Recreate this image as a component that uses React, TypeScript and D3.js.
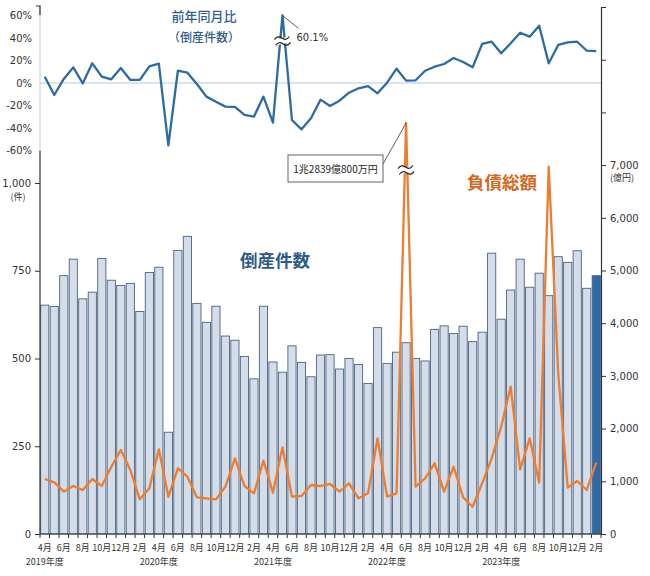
import React, { useEffect, useRef } from "react";
import * as d3 from "d3";

// 年度・月
const fiscalYears = ["2019年度", "2020年度", "2021年度", "2022年度", "2023年度"];
const monthLabels = ["4月", "5月", "6月", "7月", "8月", "9月", "10月", "11月", "12月", "1月", "2月", "3月"];

// 倒産件数（件） 2019年4月〜2024年2月
const counts = [
  652, 648, 736, 783, 670, 689, 785, 723, 708, 714, 634, 745,
  760, 290, 808, 848, 657, 603, 649, 564, 552, 506, 442, 649,
  490, 461, 536, 489, 448, 510, 511, 470, 500, 483, 429, 588,
  486, 518, 545, 500, 493, 583, 593, 571, 592, 548, 575, 800,
  612, 695, 783, 703, 743, 679, 790, 774, 807, 700, 736,
];

// 負債総額（億円）
const debt = [
  1044, 981, 803, 911, 835, 1044, 911, 1277, 1594, 1214, 658, 867,
  1607, 708, 1247, 1088, 696, 677, 658, 898, 1436, 911, 772, 1391,
  784, 1645, 708, 721, 930, 911, 949, 803, 962, 677, 772, 1816,
  708, 772, 12839, 898, 1057, 1341, 803, 1277, 696, 518, 962, 1436,
  2036, 2795, 1227, 1816, 974, 6970, 3050, 879, 1006, 835, 1353,
];

// 前年同月比（%）
const yoy = [
  5.6, -10.7, 3.6, 13.9, -0.3, 17.5, 5.6, 3.3, 13.3, 2.7, 2.7, 14.8,
  17.2, -55.4, 10.9, 9.2, -0.9, -12.1, -16.6, -21.0, -21.3, -28.4, -29.9, -12.1,
  -35.3, 60.1, -32.9, -41.2, -31.4, -14.8, -20.4, -15.7, -8.6, -4.7, -2.7, -9.2,
  0.3, 12.7, 2.1, 2.4, 10.9, 14.5, 16.9, 22.2, 18.7, 13.9, 34.7, 36.7,
  26.4, 35.3, 44.7, 41.2, 50.9, 17.5, 33.8, 36.1, 36.7, 28.7, 28.4,
];

const countTicks = [0, 250, 500, 750, 1000];
const debtTicks = d3.range(0, 10001, 1000);
const yoyTicks = [-60, -40, -20, 0, 20, 40, 60];

const JP = "'Noto Sans CJK JP', sans-serif";
const NUM = "'DejaVu Sans', sans-serif";

const App: React.FC = () => {
  const svgRef = useRef<SVGSVGElement>(null);

  useEffect(() => {
    const svg = d3.select(svgRef.current);
    svg.selectAll("*").remove();

    const left = 40;
    const right = 601;
    const bottom = 534;

    const x = d3
      .scaleBand<number>()
      .domain(d3.range(counts.length))
      .range([left, right])
      .paddingInner(0.14)
      .paddingOuter(0.07);
    const cx = (i: number) => (x(i) ?? 0) + x.bandwidth() / 2;

    const yCount = d3.scaleLinear().domain([0, 1000]).range([bottom, 183]);
    const yDebtAxis = d3.scaleLinear().domain([0, 10000]).range([bottom, 7]);
    // 6月の突出値は波線で省略して描く
    const yDebt = d3
      .scaleLinear()
      .domain([0, 7000, 12839])
      .range([bottom, yDebtAxis(7000), 123]);
    const yPct = d3.scaleLinear().domain([-60, 60]).range([150.5, 15.5]);

    // 棒（倒産件数）
    svg
      .append("g")
      .selectAll("rect")
      .data(counts)
      .join("rect")
      .attr("x", (_, i) => x(i) ?? 0)
      .attr("y", (d) => yCount(d))
      .attr("width", x.bandwidth())
      .attr("height", (d) => bottom - yCount(d))
      .attr("fill", (_, i) => (i === counts.length - 1 ? "#2e6aaa" : "#d5dde8"))
      .attr("stroke", "#4a6482")
      .attr("stroke-width", 0.9);

    // 前年同月比 0% 線
    svg
      .append("line")
      .attr("x1", left)
      .attr("x2", right)
      .attr("y1", yPct(0))
      .attr("y2", yPct(0))
      .attr("stroke", "#cfdcea")
      .attr("stroke-width", 1.6);

    // 負債総額
    const debtLine = d3
      .line<number>()
      .x((_, i) => cx(i))
      .y((d) => yDebt(d));
    svg
      .append("path")
      .datum(debt)
      .attr("d", debtLine)
      .attr("fill", "none")
      .attr("stroke", "#ed7d31")
      .attr("stroke-width", 2.3)
      .attr("stroke-linejoin", "round");

    // 前年同月比
    const yoyLine = d3
      .line<number>()
      .x((_, i) => cx(i))
      .y((d) => yPct(d));
    svg
      .append("path")
      .datum(yoy)
      .attr("d", yoyLine)
      .attr("fill", "none")
      .attr("stroke", "#2e6aa3")
      .attr("stroke-width", 2.3)
      .attr("stroke-linejoin", "round");

    // 波線
    const brk = (bx: number, by: number) => {
      const g = svg.append("g").attr("transform", `translate(${bx},${by}) rotate(-12)`);
      g.append("rect").attr("x", -8).attr("y", -3).attr("width", 16).attr("height", 6).attr("fill", "#fff");
      [-3, 3].forEach((dy) =>
        g
          .append("path")
          .attr("d", `M-7.5,${dy} q3.75,-4 7.5,0 t7.5,0`)
          .attr("fill", "none")
          .attr("stroke", "#222")
          .attr("stroke-width", 1.2)
      );
    };
    brk(cx(25), 41);
    brk(cx(38), 170);

    // 左軸（件数）
    const gl = svg.append("g").attr("transform", `translate(${left},0)`);
    gl.call(
      d3
        .axisLeft(yCount)
        .tickValues(countTicks)
        .tickFormat((d) => d3.format(",")(d as number))
        .tickSize(5)
        .tickPadding(4)
    );
    gl.select(".domain").remove();
    gl.selectAll(".tick line").attr("stroke", "#333");
    gl.selectAll(".tick text").attr("font-family", NUM).attr("font-size", 10).attr("fill", "#333");
    svg
      .append("line")
      .attr("x1", left)
      .attr("x2", left)
      .attr("y1", yPct(-60))
      .attr("y2", bottom)
      .attr("stroke", "#333")
      .attr("stroke-width", 1.2);

    // 上段の左軸（％）
    const gt = svg.append("g").attr("transform", `translate(${left},0)`);
    gt.call(
      d3
        .axisLeft(yPct)
        .tickValues(yoyTicks)
        .tickFormat((d) => `${d}%`)
        .tickSize(0)
        .tickPadding(8)
    );
    gt.select(".domain").remove();
    gt.selectAll(".tick text").attr("font-family", NUM).attr("font-size", 10).attr("fill", "#333");
    svg
      .append("line")
      .attr("x1", left)
      .attr("x2", left)
      .attr("y1", 6)
      .attr("y2", yPct(-60))
      .attr("stroke", "#c9d9e8")
      .attr("stroke-width", 1.2);
    svg
      .append("path")
      .attr("d", `M${left - 4},6H${left}V15`)
      .attr("fill", "none")
      .attr("stroke", "#333")
      .attr("stroke-width", 1.2);

    // 右軸（億円）
    const gr = svg.append("g").attr("transform", `translate(${right},0)`);
    gr.call(
      d3
        .axisRight(yDebtAxis)
        .tickValues(debtTicks)
        .tickFormat((d) => ((d as number) <= 7000 ? d3.format(",")(d as number) : ""))
        .tickSize(5)
        .tickSizeOuter(0)
        .tickPadding(4)
    );
    gr.select(".domain").attr("stroke", "#333").attr("stroke-width", 1.2);
    gr.selectAll(".tick line").attr("stroke", "#333");
    gr.selectAll(".tick text").attr("font-family", NUM).attr("font-size", 10).attr("fill", "#333");

    // 下軸
    const gb = svg.append("g");
    gb.append("line")
      .attr("x1", left)
      .attr("x2", right)
      .attr("y1", bottom)
      .attr("y2", bottom)
      .attr("stroke", "#333")
      .attr("stroke-width", 1.2);
    gb.selectAll("line.tk")
      .data(d3.range(counts.length + 1))
      .join("line")
      .attr("class", "tk")
      .attr("x1", (i) => left + i * x.step())
      .attr("x2", (i) => left + i * x.step())
      .attr("y1", bottom)
      .attr("y2", bottom + 4)
      .attr("stroke", "#333");
    gb.selectAll("text.m")
      .data(counts.map((_, i) => i).filter((i) => i % 2 === 0))
      .join("text")
      .attr("class", "m")
      .attr("x", (i) => cx(i))
      .attr("y", 551)
      .attr("text-anchor", "middle")
      .attr("font-family", JP)
      .attr("font-size", 9)
      .attr("fill", "#333")
      .text((i) => monthLabels[i % 12]);
    gb.selectAll("text.fy")
      .data(fiscalYears)
      .join("text")
      .attr("class", "fy")
      .attr("x", (_, k) => cx(k * 12))
      .attr("y", 565)
      .attr("text-anchor", "middle")
      .attr("font-family", JP)
      .attr("font-size", 9)
      .attr("fill", "#333")
      .text((d) => d);

    // 単位
    svg.append("text").text("(件)").attr("x", 18).attr("y", 200).attr("text-anchor", "middle")
      .attr("font-family", JP).attr("font-size", 9).attr("fill", "#333");
    svg.append("text").text("(億円)").attr("x", 622).attr("y", 181).attr("text-anchor", "middle")
      .attr("font-family", JP).attr("font-size", 9).attr("fill", "#333");

    // 見出し
    svg.append("text").text("前年同月比").attr("x", 204).attr("y", 21).attr("text-anchor", "middle")
      .attr("font-family", JP).attr("font-size", 13).attr("font-weight", 500).attr("fill", "#2f5d8c");
    svg.append("text").text("（倒産件数）").attr("x", 204).attr("y", 42).attr("text-anchor", "middle")
      .attr("font-family", JP).attr("font-size", 12).attr("font-weight", 500).attr("fill", "#2f5d8c");
    svg.append("text").text("倒産件数").attr("x", 275).attr("y", 267).attr("text-anchor", "middle")
      .attr("font-family", JP).attr("font-size", 17.5).attr("font-weight", 700).attr("fill", "#2e5a87");
    svg.append("text").text("負債総額").attr("x", 502).attr("y", 189).attr("text-anchor", "middle")
      .attr("font-family", JP).attr("font-size", 17.5).attr("font-weight", 700).attr("fill", "#d2691f");

    // 60.1% 注記
    const px = cx(25);
    const py = yPct(yoy[25]);
    svg.append("line").attr("x1", px).attr("y1", py).attr("x2", px + 16).attr("y2", py + 13)
      .attr("stroke", "#333").attr("stroke-width", 0.8);
    svg.append("text").text("60.1%").attr("x", px + 14).attr("y", py + 26)
      .attr("font-family", NUM).attr("font-size", 10).attr("fill", "#333");

    // 1兆円超の注記
    const sx = cx(38);
    const sy = yDebt(debt[38]);
    svg.append("line").attr("x1", 383).attr("y1", 164).attr("x2", sx).attr("y2", sy)
      .attr("stroke", "#333").attr("stroke-width", 0.8);
    svg.append("rect").attr("x", 288).attr("y", 155).attr("width", 95).attr("height", 27)
      .attr("fill", "#fff").attr("stroke", "#555").attr("stroke-width", 0.9);
    svg.append("text").text("1兆2839億800万円").attr("x", 335.5).attr("y", 173).attr("text-anchor", "middle")
      .attr("font-family", JP).attr("font-size", 10).attr("fill", "#222");
  });

  return (
    <svg
      ref={svgRef}
      width={650}
      height={576}
      style={{ position: "absolute", left: 0, top: 0, background: "#fff" }}
    ></svg>
  );
};

export default App;
